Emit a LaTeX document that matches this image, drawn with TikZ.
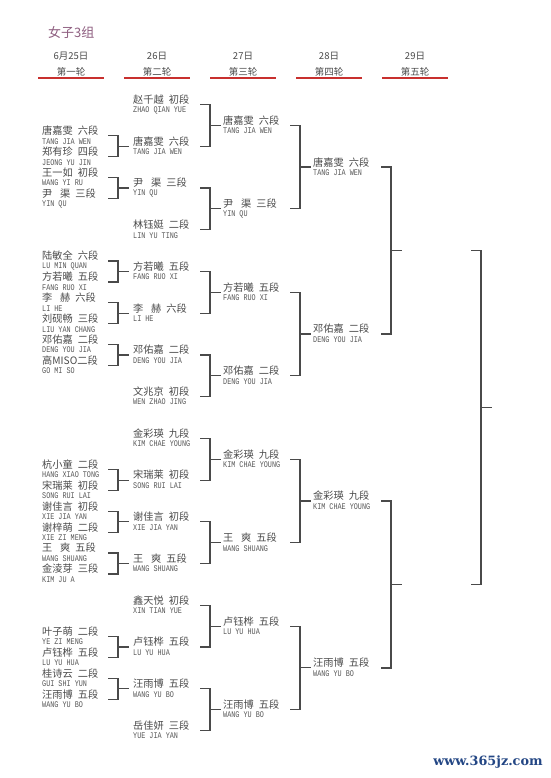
\documentclass[tikz,border=0pt]{standalone}
\usepackage{fontspec}
\setmainfont{Noto Sans CJK SC}
\newfontfamily\pyfont[FakeStretch=0.78]{Liberation Mono}
\newfontfamily\wmfont{DejaVu Serif}
\usetikzlibrary{calc}
\definecolor{txt}{HTML}{4A4A4A}
\definecolor{pyc}{HTML}{575757}
\definecolor{ln}{HTML}{4A4A4A}
\definecolor{ttl}{HTML}{8E5E80}
\definecolor{ulc}{HTML}{C8302E}
\definecolor{wmc}{HTML}{234684}
\tikzset{
  cn/.style={anchor=west,inner sep=0pt,text=txt,font=\fontsize{10.2}{11}\selectfont},
  py/.style={anchor=west,inner sep=0pt,text=pyc,font=\pyfont\fontsize{8.7}{9}\selectfont},
  bline/.style={draw=ln,line width=1.2pt},
  hd/.style={inner sep=0pt,text=txt,font=\fontsize{9.5}{10}\selectfont},
  uline/.style={draw=ulc,line width=2pt},
  ttlstyle/.style={anchor=west,inner sep=0pt,text=ttl,font=\fontsize{13}{14}\selectfont},
  wm/.style={inner sep=0pt,text=wmc,font=\wmfont\bfseries\fontsize{12.8}{14}\selectfont}
}
\newcommand\nm[2]{#1\hspace{0.5em}#2}
\newcommand\tw[2]{#1\hspace{0.75em}#2}
% name, x, line y, chinese, pinyin, stub x
\newcommand\ent[6]{%
  \node[cn] (#1) at (#2,#3-5) {#4};
  \node[py] (#1p) at (#2,#3+5.5) {#5};
  \coordinate (#1s) at (#6,#3);
}
\newcommand\brk[2]{%
  \draw[bline] (#1s) -- ++(10,0) |- (#2s);
  \draw[bline] ($(#1s)!.5!(#2s)+(10,0)$) -- ++(11,0);
}
\begin{document}
\begin{tikzpicture}[x=1pt,y=-1pt]
\fill[white] (0,0) rectangle (550,778);
\useasboundingbox (0,0) rectangle (550,778);

% title
\node[ttlstyle] (title) at (48,32) {女子3组};

% headers
\foreach \c/\d/\r [count=\i] in {71/6月25日/第一轮,157/26日/第二轮,243/27日/第三轮,329/28日/第四轮,415/29日/第五轮}{
  \node[hd] (date\i) at (\c,56) {\d};
  \node[hd] (round\i) at (\c,72) {\r};
  \draw[uline] (\c-33,78.5) -- (\c+33,78.5);
}

% round 1
\ent{a1}{42}{135.7}{\nm{唐嘉雯}{六段}}{TANG JIA WEN}{108}
\ent{a2}{42}{156.7}{\nm{郑有珍}{四段}}{JEONG YU JIN}{108}
\ent{a3}{42}{177.5}{\nm{王一如}{初段}}{WANG YI RU}{108}
\ent{a4}{42}{198.5}{\nm{\tw{尹}{渠}}{三段}}{YIN QU}{108}
\ent{a5}{42}{260.9}{\nm{陆敏全}{六段}}{LU MIN QUAN}{108}
\ent{a6}{42}{281.9}{\nm{方若曦}{五段}}{FANG RUO XI}{108}
\ent{a7}{42}{302.7}{\nm{\tw{李}{赫}}{六段}}{LI HE}{108}
\ent{a8}{42}{323.7}{\nm{刘砚畅}{三段}}{LIU YAN CHANG}{108}
\ent{a9}{42}{344.4}{\nm{邓佑嘉}{二段}}{DENG YOU JIA}{108}
\ent{a10}{42}{365.4}{高MISO二段}{GO MI SO}{108}
\ent{a11}{42}{469.6}{\nm{杭小童}{二段}}{HANG XIAO TONG}{108}
\ent{a12}{42}{490.6}{\nm{宋瑞莱}{初段}}{SONG RUI LAI}{108}
\ent{a13}{42}{511.3}{\nm{谢佳言}{初段}}{XIE JIA YAN}{108}
\ent{a14}{42}{532.3}{\nm{谢梓萌}{二段}}{XIE ZI MENG}{108}
\ent{a15}{42}{553.0}{\nm{\tw{王}{爽}}{五段}}{WANG SHUANG}{108}
\ent{a16}{42}{574.0}{\nm{金淩芽}{三段}}{KIM JU A}{108}
\ent{a17}{42}{636.5}{\nm{叶子萌}{二段}}{YE ZI MENG}{108}
\ent{a18}{42}{657.5}{\nm{卢钰桦}{五段}}{LU YU HUA}{108}
\ent{a19}{42}{678.2}{\nm{桂诗云}{二段}}{GUI SHI YUN}{108}
\ent{a20}{42}{699.2}{\nm{汪雨博}{五段}}{WANG YU BO}{108}

% round 2
\ent{b0}{133}{104.5}{\nm{赵千越}{初段}}{ZHAO QIAN YUE}{200}
\ent{b1}{133}{146.2}{\nm{唐嘉雯}{六段}}{TANG JIA WEN}{200}
\ent{b2}{133}{188.0}{\nm{\tw{尹}{渠}}{三段}}{YIN QU}{200}
\ent{b3}{133}{229.7}{\nm{林钰娗}{二段}}{LIN YU TING}{200}
\ent{b4}{133}{271.4}{\nm{方若曦}{五段}}{FANG RUO XI}{200}
\ent{b5}{133}{313.2}{\nm{\tw{李}{赫}}{六段}}{LI HE}{200}
\ent{b6}{133}{354.9}{\nm{邓佑嘉}{二段}}{DENG YOU JIA}{200}
\ent{b7}{133}{396.6}{\nm{文兆京}{初段}}{WEN ZHAO JING}{200}
\ent{b8}{133}{438.3}{\nm{金彩瑛}{九段}}{KIM CHAE YOUNG}{200}
\ent{b9}{133}{480.1}{\nm{宋瑞莱}{初段}}{SONG RUI LAI}{200}
\ent{b10}{133}{521.8}{\nm{谢佳言}{初段}}{XIE JIA YAN}{200}
\ent{b11}{133}{563.5}{\nm{\tw{王}{爽}}{五段}}{WANG SHUANG}{200}
\ent{b12}{133}{605.3}{\nm{鑫天悦}{初段}}{XIN TIAN YUE}{200}
\ent{b13}{133}{647.0}{\nm{卢钰桦}{五段}}{LU YU HUA}{200}
\ent{b14}{133}{688.7}{\nm{汪雨博}{五段}}{WANG YU BO}{200}
\ent{b15}{133}{730.5}{\nm{岳佳妍}{三段}}{YUE JIA YAN}{200}

% round 3
\ent{c0}{223}{125.35}{\nm{唐嘉雯}{六段}}{TANG JIA WEN}{290}
\ent{c1}{223}{208.85}{\nm{\tw{尹}{渠}}{三段}}{YIN QU}{290}
\ent{c2}{223}{292.3}{\nm{方若曦}{五段}}{FANG RUO XI}{290}
\ent{c3}{223}{375.75}{\nm{邓佑嘉}{二段}}{DENG YOU JIA}{290}
\ent{c4}{223}{459.2}{\nm{金彩瑛}{九段}}{KIM CHAE YOUNG}{290}
\ent{c5}{223}{542.65}{\nm{\tw{王}{爽}}{五段}}{WANG SHUANG}{290}
\ent{c6}{223}{626.15}{\nm{卢钰桦}{五段}}{LU YU HUA}{290}
\ent{c7}{223}{709.6}{\nm{汪雨博}{五段}}{WANG YU BO}{290}

% round 4
\ent{d0}{313}{167.1}{\nm{唐嘉雯}{六段}}{TANG JIA WEN}{381}
\ent{d1}{313}{334.0}{\nm{邓佑嘉}{二段}}{DENG YOU JIA}{381}
\ent{d2}{313}{500.9}{\nm{金彩瑛}{九段}}{KIM CHAE YOUNG}{381}
\ent{d3}{313}{667.9}{\nm{汪雨博}{五段}}{WANG YU BO}{381}

% round 5 entry points (no names yet)
\coordinate (e0s) at ($(d0s)!.5!(d1s)+(90,0)$);
\coordinate (e1s) at ($(d2s)!.5!(d3s)+(90,0)$);

% brackets round 1
\brk{a1}{a2}\brk{a3}{a4}\brk{a5}{a6}\brk{a7}{a8}\brk{a9}{a10}
\brk{a11}{a12}\brk{a13}{a14}\brk{a15}{a16}\brk{a17}{a18}\brk{a19}{a20}
% brackets round 2
\brk{b0}{b1}\brk{b2}{b3}\brk{b4}{b5}\brk{b6}{b7}
\brk{b8}{b9}\brk{b10}{b11}\brk{b12}{b13}\brk{b14}{b15}
% brackets round 3
\brk{c0}{c1}\brk{c2}{c3}\brk{c4}{c5}\brk{c6}{c7}
% brackets round 4
\brk{d0}{d1}\brk{d2}{d3}
% bracket round 5
\draw[bline] (e0s) -- ++(10,0) |- (e1s);
\draw[bline] ($(e0s)!.47!(e1s)+(10,0)$) -- ++(11,0);

% watermark
\node[wm] (wmark) at (488,762) {www.365jz.com};
\end{tikzpicture}
\end{document}
